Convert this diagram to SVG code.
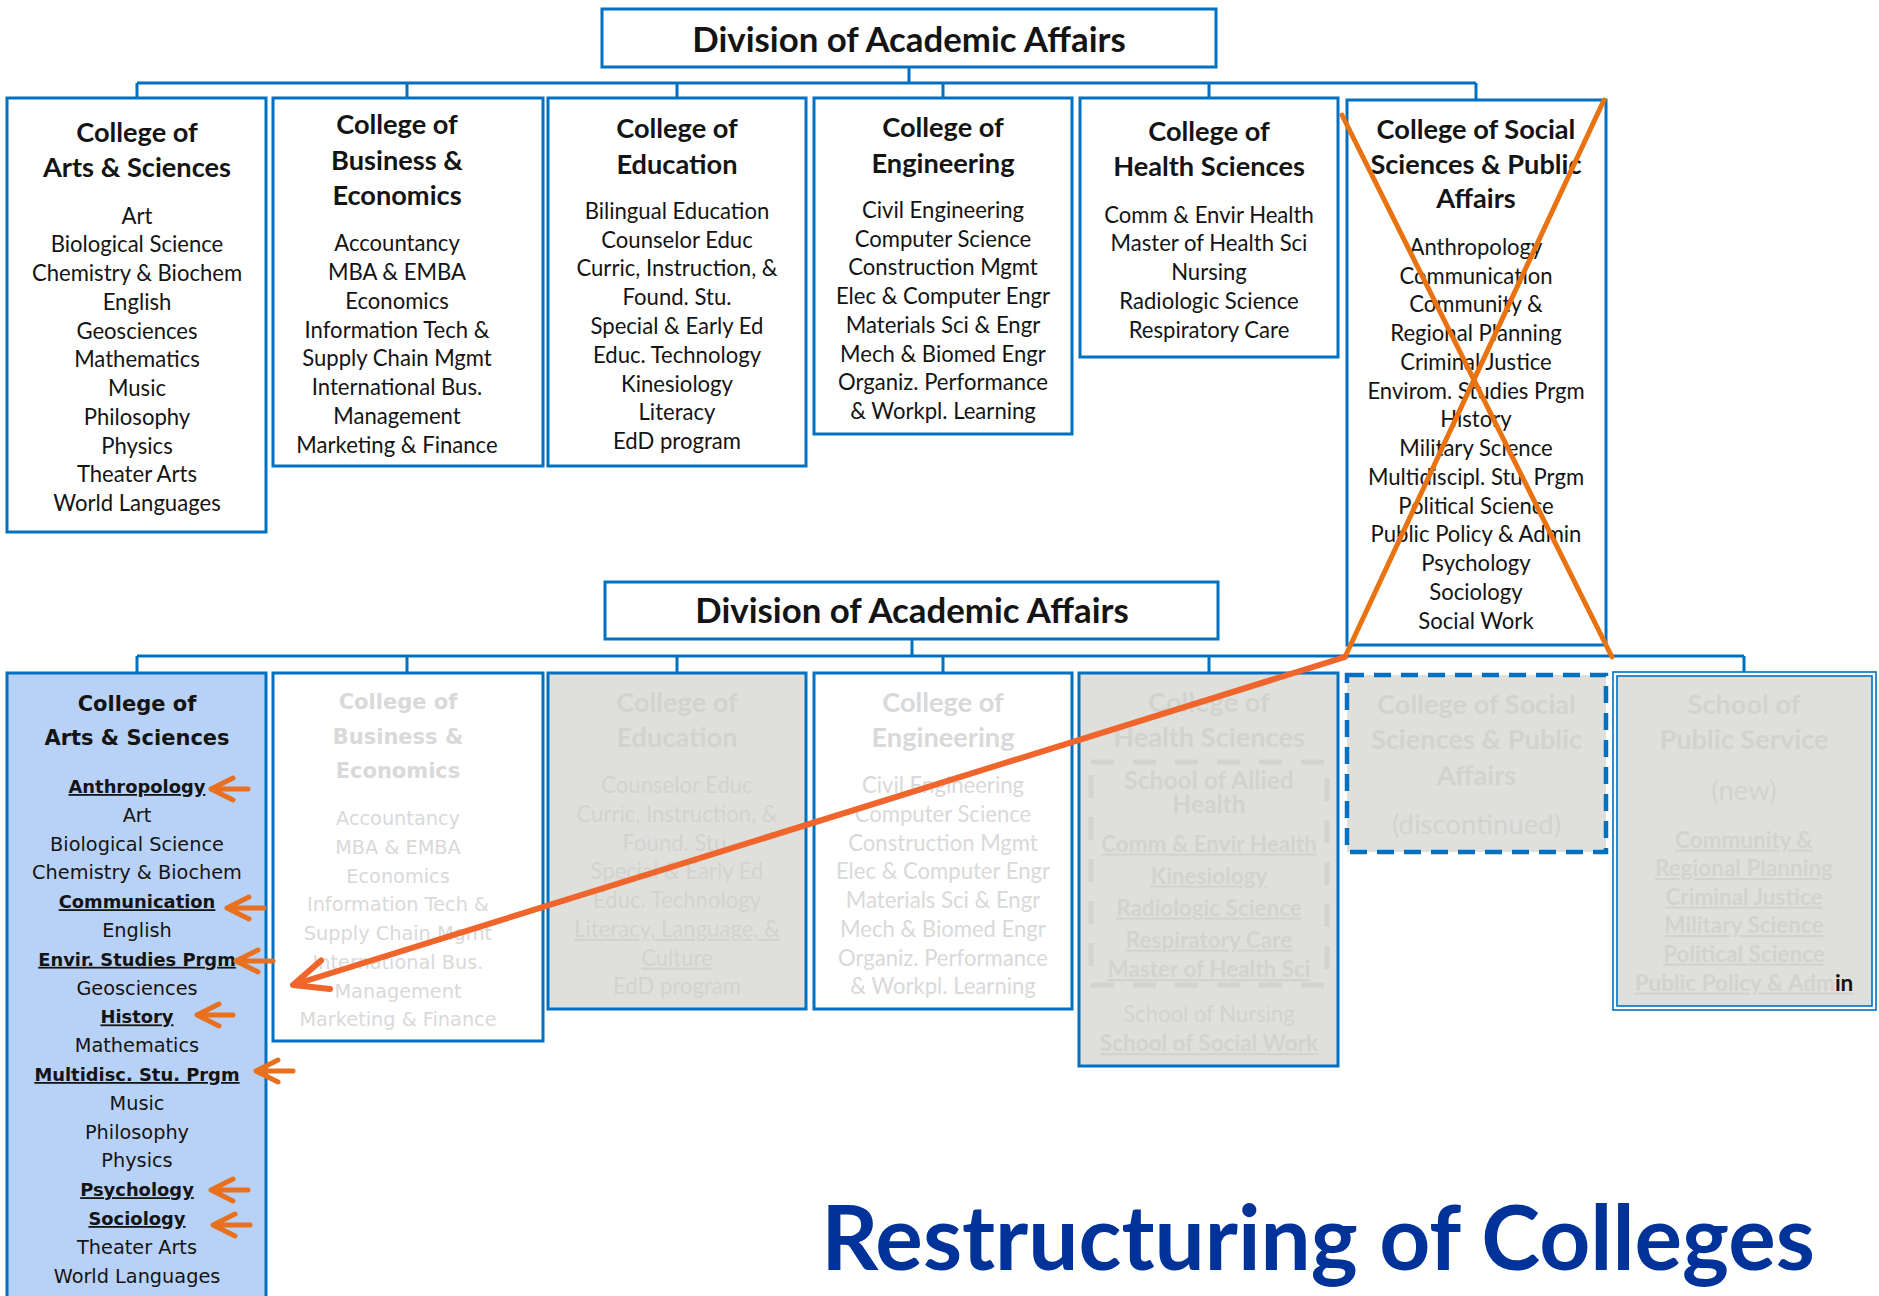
<svg xmlns="http://www.w3.org/2000/svg" width="1879" height="1296" viewBox="0 0 1879 1296">
  <defs>
    <style>
      .box { fill: #ffffff; stroke: #0070C0; stroke-width: 3; }
      .gray { fill: #DFE0DC; }
      .blue { fill: #B8D1F6; }
      .ln { fill: none; stroke: #0070C0; stroke-width: 3; }
      .c { font-family: Lato, 'Liberation Sans', sans-serif; text-anchor: middle; fill: #141414; }
      .v { font-family: 'DejaVu Sans', Verdana, sans-serif; text-anchor: middle; fill: #141414; }
      .h { font-size: 27.2px; font-weight: 700; }
      .i { font-size: 22.1px; }
      .ib { font-size: 22.5px; font-weight: 700; }
      .vh { font-size: 21px; font-weight: 700; }
      .vi { font-size: 19.3px; }
      .vb { font-size: 17.9px; font-weight: 700; }
      .b { font-weight: 700; }
      .u { text-decoration: underline; }
      .fw { fill: #D9D9D9; }
      .fg { fill: #D2D3CF; }
      .div { font-size: 34.8px; font-weight: 700; }
      .orange { fill: none; stroke: #E97311; stroke-width: 5; stroke-linecap: round; stroke-linejoin: round; }
      .arrow { fill: none; stroke: #F0652B; stroke-width: 6; stroke-linecap: round; stroke-linejoin: round; }
      .small { fill: none; stroke: #E8701E; stroke-width: 5; stroke-linecap: round; stroke-linejoin: round; }
    </style>
  </defs>

  <rect width="1879" height="1296" fill="#ffffff"/>

  <!-- ===== Connectors (current and new structures) ===== -->
  <g id="connectors">
    <path class="ln" d="M909,67 V83 M137,83 H1476 M137,83 V98 M407,83 V98 M677,83 V98 M943,83 V98 M1209,83 V98 M1476,83 V100"/>
    <path class="ln" d="M912,639 V656 M137,656 H1744 M137,656 V673 M407,656 V673 M677,656 V673 M943,656 V673 M1209,656 V673 M1744,656 V672"/>
  </g>

  <!-- ===== Current structure ===== -->
  <g id="division-current">
    <rect class="box" x="602" y="9" width="614" height="58"/>
    <text class="c div" x="909" y="51.5">Division of Academic Affairs</text>
  </g>

  <g id="arts-current">
    <rect class="box" x="7" y="98" width="259" height="434"/>
    <text class="c h" x="137" y="142">College of</text>
    <text class="c h" x="137" y="177">Arts &amp; Sciences</text>
    <text class="c i" x="137" y="223.5">Art</text>
    <text class="c i" x="137" y="252.3">Biological Science</text>
    <text class="c i" x="137" y="281">Chemistry &amp; Biochem</text>
    <text class="c i" x="137" y="309.8">English</text>
    <text class="c i" x="137" y="338.5">Geosciences</text>
    <text class="c i" x="137" y="367.3">Mathematics</text>
    <text class="c i" x="137" y="396.1">Music</text>
    <text class="c i" x="137" y="424.8">Philosophy</text>
    <text class="c i" x="137" y="453.6">Physics</text>
    <text class="c i" x="137" y="482.3">Theater Arts</text>
    <text class="c i" x="137" y="511.1">World Languages</text>
  </g>

  <g id="business-current">
    <rect class="box" x="273" y="98" width="270" height="368"/>
    <text class="c h" x="397" y="134">College of</text>
    <text class="c h" x="397" y="169.5">Business &amp;</text>
    <text class="c h" x="397" y="205">Economics</text>
    <text class="c i" x="397" y="251.3">Accountancy</text>
    <text class="c i" x="397" y="280.1">MBA &amp; EMBA</text>
    <text class="c i" x="397" y="308.8">Economics</text>
    <text class="c i" x="397" y="337.6">Information Tech &amp;</text>
    <text class="c i" x="397" y="366.3">Supply Chain Mgmt</text>
    <text class="c i" x="397" y="395.1">International Bus.</text>
    <text class="c i" x="397" y="423.9">Management</text>
    <text class="c i" x="397" y="452.6">Marketing &amp; Finance</text>
  </g>

  <g id="education-current">
    <rect class="box" x="548" y="98" width="258" height="368"/>
    <text class="c h" x="677" y="137.7">College of</text>
    <text class="c h" x="677" y="173.7">Education</text>
    <text class="c i" x="677" y="218.9">Bilingual Education</text>
    <text class="c i" x="677" y="247.7">Counselor Educ</text>
    <text class="c i" x="677" y="276.4">Curric, Instruction, &amp;</text>
    <text class="c i" x="677" y="305.2">Found. Stu.</text>
    <text class="c i" x="677" y="333.9">Special &amp; Early Ed</text>
    <text class="c i" x="677" y="362.7">Educ. Technology</text>
    <text class="c i" x="677" y="391.5">Kinesiology</text>
    <text class="c i" x="677" y="420.2">Literacy</text>
    <text class="c i" x="677" y="449">EdD program</text>
  </g>

  <g id="engineering-current">
    <rect class="box" x="814" y="98" width="258" height="336"/>
    <text class="c h" x="943" y="136.5">College of</text>
    <text class="c h" x="943" y="172.5">Engineering</text>
    <text class="c i" x="943" y="217.7">Civil Engineering</text>
    <text class="c i" x="943" y="246.5">Computer Science</text>
    <text class="c i" x="943" y="275.2">Construction Mgmt</text>
    <text class="c i" x="943" y="304">Elec &amp; Computer Engr</text>
    <text class="c i" x="943" y="332.7">Materials Sci &amp; Engr</text>
    <text class="c i" x="943" y="361.5">Mech &amp; Biomed Engr</text>
    <text class="c i" x="943" y="390.3">Organiz. Performance</text>
    <text class="c i" x="943" y="419">&amp; Workpl. Learning</text>
  </g>

  <g id="health-current">
    <rect class="box" x="1080" y="98" width="258" height="259"/>
    <text class="c h" x="1209" y="141.3">College of</text>
    <text class="c h" x="1209" y="176">Health Sciences</text>
    <text class="c i" x="1209" y="222.5">Comm &amp; Envir Health</text>
    <text class="c i" x="1209" y="251.3">Master of Health Sci</text>
    <text class="c i" x="1209" y="280">Nursing</text>
    <text class="c i" x="1209" y="308.8">Radiologic Science</text>
    <text class="c i" x="1209" y="337.5">Respiratory Care</text>
  </g>

  <g id="social-current">
    <rect class="box" x="1347" y="100" width="259" height="545"/>
    <text class="c h" x="1476" y="139">College of Social</text>
    <text class="c h" x="1476" y="173.7">Sciences &amp; Public</text>
    <text class="c h" x="1476" y="208.4">Affairs</text>
    <text class="c i" x="1476" y="254.8">Anthropology</text>
    <text class="c i" x="1476" y="283.6">Communication</text>
    <text class="c i" x="1476" y="312.3">Community &amp;</text>
    <text class="c i" x="1476" y="341.1">Regional Planning</text>
    <text class="c i" x="1476" y="369.8">Criminal Justice</text>
    <text class="c i" x="1476" y="398.6">Envirom. Studies Prgm</text>
    <text class="c i" x="1476" y="427.4">History</text>
    <text class="c i" x="1476" y="456.1">Military Science</text>
    <text class="c i" x="1476" y="484.9">Multidiscipl. Stu. Prgm</text>
    <text class="c i" x="1476" y="513.6">Political Science</text>
    <text class="c i" x="1476" y="542.4">Public Policy &amp; Admin</text>
    <text class="c i" x="1476" y="571.2">Psychology</text>
    <text class="c i" x="1476" y="599.9">Sociology</text>
    <text class="c i" x="1476" y="628.7">Social Work</text>
  </g>

  <!-- ===== New structure ===== -->
  <g id="division-new">
    <rect class="box" x="605" y="582" width="613" height="57"/>
    <text class="c div" x="912" y="623">Division of Academic Affairs</text>
  </g>

  <g id="arts-new">
    <rect class="box blue" x="7" y="673" width="259" height="660"/>
    <text class="v vh" x="137" y="711">College of</text>
    <text class="v vh" x="137" y="745">Arts &amp; Sciences</text>
    <text class="v vb u" x="137" y="793">Anthropology</text>
    <text class="v vi" x="137" y="821.8">Art</text>
    <text class="v vi" x="137" y="850.6">Biological Science</text>
    <text class="v vi" x="137" y="879.4">Chemistry &amp; Biochem</text>
    <text class="v vb u" x="137" y="908.2">Communication</text>
    <text class="v vi" x="137" y="937">English</text>
    <text class="v vb u" x="137" y="965.8">Envir. Studies Prgm</text>
    <text class="v vi" x="137" y="994.6">Geosciences</text>
    <text class="v vb u" x="137" y="1023.4">History</text>
    <text class="v vi" x="137" y="1052.2">Mathematics</text>
    <text class="v vb u" x="137" y="1081">Multidisc. Stu. Prgm</text>
    <text class="v vi" x="137" y="1109.8">Music</text>
    <text class="v vi" x="137" y="1138.6">Philosophy</text>
    <text class="v vi" x="137" y="1167.4">Physics</text>
    <text class="v vb u" x="137" y="1196.2">Psychology</text>
    <text class="v vb u" x="137" y="1225">Sociology</text>
    <text class="v vi" x="137" y="1253.8">Theater Arts</text>
    <text class="v vi" x="137" y="1282.6">World Languages</text>
  </g>

  <g id="business-new">
    <rect class="box" x="273" y="673" width="270" height="368"/>
    <text class="v vh fw" x="398" y="709">College of</text>
    <text class="v vh fw" x="398" y="743.5">Business &amp;</text>
    <text class="v vh fw" x="398" y="778">Economics</text>
    <text class="v vi fw" x="398" y="825">Accountancy</text>
    <text class="v vi fw" x="398" y="853.8">MBA &amp; EMBA</text>
    <text class="v vi fw" x="398" y="882.5">Economics</text>
    <text class="v vi fw" x="398" y="911.3">Information Tech &amp;</text>
    <text class="v vi fw" x="398" y="940">Supply Chain Mgmt</text>
    <text class="v vi fw" x="398" y="968.8">International Bus.</text>
    <text class="v vi fw" x="398" y="997.6">Management</text>
    <text class="v vi fw" x="398" y="1026.3">Marketing &amp; Finance</text>
  </g>

  <g id="education-new">
    <rect class="box gray" x="548" y="673" width="258" height="336"/>
    <text class="c h fg" x="677" y="711.7">College of</text>
    <text class="c h fg" x="677" y="746.5">Education</text>
    <text class="c i fg" x="677" y="793">Counselor Educ</text>
    <text class="c i fg" x="677" y="821.8">Curric, Instruction, &amp;</text>
    <text class="c i fg" x="677" y="850.5">Found. Stu.</text>
    <text class="c i fg" x="677" y="879.3">Special &amp; Early Ed</text>
    <text class="c i fg" x="677" y="908">Educ. Technology</text>
    <text class="c i fg u" x="677" y="936.8">Literacy, Language, &amp;</text>
    <text class="c i fg u" x="677" y="965.6">Culture</text>
    <text class="c i fg" x="677" y="994.3">EdD program</text>
  </g>

  <g id="engineering-new">
    <rect class="box" x="814" y="673" width="258" height="336"/>
    <text class="c h fw" x="943" y="711.7">College of</text>
    <text class="c h fw" x="943" y="746.5">Engineering</text>
    <text class="c i fw" x="943" y="793">Civil Engineering</text>
    <text class="c i fw" x="943" y="821.8">Computer Science</text>
    <text class="c i fw" x="943" y="850.5">Construction Mgmt</text>
    <text class="c i fw" x="943" y="879.3">Elec &amp; Computer Engr</text>
    <text class="c i fw" x="943" y="908">Materials Sci &amp; Engr</text>
    <text class="c i fw" x="943" y="936.8">Mech &amp; Biomed Engr</text>
    <text class="c i fw" x="943" y="965.6">Organiz. Performance</text>
    <text class="c i fw" x="943" y="994.3">&amp; Workpl. Learning</text>
  </g>

  <g id="health-new">
    <rect class="box gray" x="1079" y="673" width="259" height="393"/>
    <text class="c h fg" x="1209" y="712">College of</text>
    <text class="c h fg" x="1209" y="747">Health Sciences</text>
    <rect x="1091" y="762" width="236" height="223" fill="none" stroke="#D3D4D0" stroke-width="5" stroke-dasharray="23 19"/>
    <text class="c fg b" font-size="24.6" x="1209" y="789">School of Allied</text>
    <text class="c fg b" font-size="24.6" x="1209" y="813">Health</text>
    <text class="c ib fg u" x="1209" y="851.5">Comm &amp; Envir Health</text>
    <text class="c ib fg u" x="1209" y="883.5">Kinesiology</text>
    <text class="c ib fg u" x="1209" y="915.5">Radiologic Science</text>
    <text class="c ib fg u" x="1209" y="947.5">Respiratory Care</text>
    <text class="c ib fg u" x="1209" y="977">Master of Health Sci</text>
    <text class="c i fg" x="1209" y="1022">School of Nursing</text>
    <text class="c ib fg u" x="1209" y="1051">School of Social Work</text>
  </g>

  <g id="social-new">
    <rect class="gray" x="1347" y="675" width="259" height="177" stroke="#0070C0" stroke-width="4.5" stroke-dasharray="17 10"/>
    <text class="c h fg" x="1476.5" y="714">College of Social</text>
    <text class="c h fg" x="1476.5" y="749">Sciences &amp; Public</text>
    <text class="c h fg" x="1476.5" y="785">Affairs</text>
    <text class="c fg" font-size="27.5" x="1476.5" y="834">(discontinued)</text>
  </g>

  <g id="public-service-new">
    <rect x="1613" y="672" width="263" height="338" fill="#ffffff" stroke="#0070C0" stroke-width="1.6"/>
    <rect class="gray" x="1617" y="676" width="255" height="330" stroke="#0070C0" stroke-width="1.6"/>
    <text class="c h fg" x="1744" y="714">School of</text>
    <text class="c h fg" x="1744" y="749">Public Service</text>
    <text class="c fg" font-size="27.5" x="1744" y="800">(new)</text>
    <text class="c ib fg u" x="1744" y="847.5">Community &amp;</text>
    <text class="c ib fg u" x="1744" y="876">Regional Planning</text>
    <text class="c ib fg u" x="1744" y="904.5">Criminal Justice</text>
    <text class="c ib fg u" x="1744" y="933">Military Science</text>
    <text class="c ib fg u" x="1744" y="961.5">Political Science</text>
    <text class="c ib fg u" x="1744" y="990.5">Public Policy &amp; Adm<tspan fill="#141414">in</tspan></text>
  </g>

  <!-- ===== Annotations: removed college, moved programs ===== -->
  <g id="annotations">
    <path class="orange" d="M1342,115 L1612,657 M1604,100 L1345,657"/>
    <path class="arrow" d="M1345,657 L296,984 M321,960.5 L293,985 L330,989"/>
    <path class="small" d="M248,789 H214 M233,778 L211,789 L233,800"/>
    <path class="small" d="M264,908 H230 M249,897 L227,908 L249,919"/>
    <path class="small" d="M273,961 H239 M258,950 L236,961 L258,972"/>
    <path class="small" d="M233,1015 H200 M219,1004 L197,1015 L219,1026"/>
    <path class="small" d="M293,1071 H259 M278,1060 L256,1071 L278,1082"/>
    <path class="small" d="M248,1190 H214 M233,1179 L211,1190 L233,1201"/>
    <path class="small" d="M250,1225 H216 M235,1214 L213,1225 L235,1236"/>
  </g>

  <g id="title">
    <text class="c b" x="1318" y="1270" font-size="89" style="fill:#003399">Restructuring of Colleges</text>
  </g>
</svg>
